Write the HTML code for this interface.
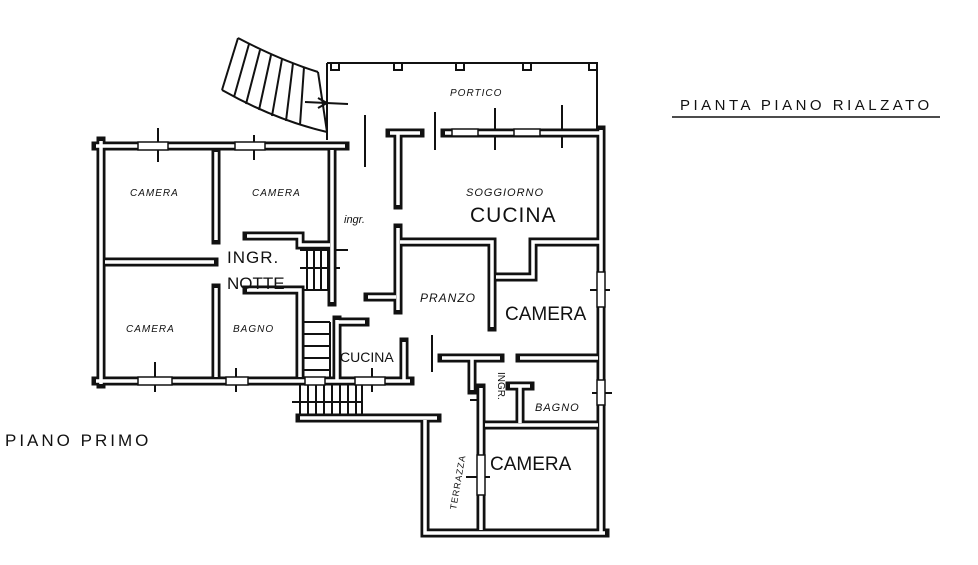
<!DOCTYPE html>
<html><head><meta charset="utf-8"><style>
html,body{margin:0;padding:0;background:#fff;}
svg{display:block;}
text{font-family:"Liberation Sans",sans-serif;fill:#111;}
</style></head><body>
<svg width="978" height="565" viewBox="0 0 978 565" xmlns="http://www.w3.org/2000/svg">
<rect width="978" height="565" fill="#fff"/>
<g stroke="#111" stroke-width="2" fill="none">
<path d="M327,63 L597,63 L597,130"/>
<path d="M327,63 L327,140"/>
<path d="M238,38 Q280,60 318,72"/>
<path d="M222,90 Q275,120 327,132"/>
<path d="M238,38 L222,90"/>
<path d="M318,72 L327,132"/>
<path d="M249,44 L234,97 M260,50 L246,104 M271,55 L259,110 M282,59 L272,116 M293,63 L286,121 M304,67 L300,125"/>
<path d="M305,102 L348,104"/><path d="M318,98 L327,103 L318,108"/>
<rect x="331" y="63" width="8" height="7" fill="#fff"/>
<rect x="394" y="63" width="8" height="7" fill="#fff"/>
<rect x="456" y="63" width="8" height="7" fill="#fff"/>
<rect x="523" y="63" width="8" height="7" fill="#fff"/>
<rect x="589" y="63" width="8" height="7" fill="#fff"/>
<path d="M158,128 L158,162 M254,135 L254,160 M365,115 L365,167 M435,112 L435,150 M495,108 L495,150 M562,105 L562,148"/>
<path d="M155,362 L155,392 M236,368 L236,392 M372,368 L372,392 M432,335 L432,372"/>
<path d="M590,290 L610,290 M470,400 L483,400 M466,477 L490,477 M592,393 L612,393"/>
<path d="M300,250 L348,250 M300,290 L332,290 M307,250 L307,290 M314,250 L314,290 M321,250 L321,290 M328,250 L328,290"/>
<path d="M300,268 L340,268"/>
<path d="M302,322 L330,322 M302,334 L330,334 M302,346 L330,346 M302,358 L330,358 M302,370 L330,370 M302,322 L302,377 M330,322 L330,377"/>
<path d="M300,385 L300,418 M308,385 L308,418 M316,385 L316,418 M324,385 L324,418 M332,385 L332,418 M340,385 L340,418 M348,385 L348,418 M356,385 L356,418 M362,385 L362,418"/>
<path d="M292,402 L362,402"/>
</g>
<g fill="none" stroke-linecap="square">
<g stroke="#111" stroke-width="9">
<path d="M96,146 L345,146"/>
<path d="M101,141 L101,384"/>
<path d="M96,381 L410,381"/>
<path d="M216,152 L216,240 M216,288 L216,377"/>
<path d="M105,262 L214,262"/>
<path d="M332,150 L332,302"/>
<path d="M247,236 L300,236 L300,245 L330,245"/>
<path d="M247,290 L300,290 L300,377"/>
<path d="M337,320 L337,381 M337,322 L365,322"/>
<path d="M404,342 L404,381"/>
<path d="M390,133 L420,133 M445,133 L600,133"/>
<path d="M398,133 L398,205 M398,228 L398,310"/>
<path d="M368,297 L396,297"/>
<path d="M400,242 L492,242 L492,327"/>
<path d="M496,277 L533,277 L533,242 L600,242"/>
<path d="M601,130 L601,533"/>
<path d="M442,358 L500,358 M472,358 L472,390"/>
<path d="M520,358 L598,358"/>
<path d="M425,420 L425,533 L605,533"/>
<path d="M300,418 L437,418"/>
<path d="M481,388 L481,530"/>
<path d="M485,425 L598,425"/>
<path d="M510,386 L530,386 M520,386 L520,423"/>
</g>
</g>
<g fill="none" stroke="#fff" stroke-width="3.5" stroke-linecap="butt">
<path d="M96,146 L345,146"/>
<path d="M101,141 L101,384"/>
<path d="M96,381 L410,381"/>
<path d="M216,152 L216,240 M216,288 L216,377"/>
<path d="M105,262 L214,262"/>
<path d="M332,150 L332,302"/>
<path d="M247,236 L300,236 L300,245 L330,245"/>
<path d="M247,290 L300,290 L300,377"/>
<path d="M337,320 L337,381 M337,322 L365,322"/>
<path d="M404,342 L404,381"/>
<path d="M390,133 L420,133 M445,133 L600,133"/>
<path d="M398,133 L398,205 M398,228 L398,310"/>
<path d="M368,297 L396,297"/>
<path d="M400,242 L492,242 L492,327"/>
<path d="M496,277 L533,277 L533,242 L600,242"/>
<path d="M601,130 L601,533"/>
<path d="M442,358 L500,358 M472,358 L472,390"/>
<path d="M520,358 L598,358"/>
<path d="M425,420 L425,533 L605,533"/>
<path d="M300,418 L437,418"/>
<path d="M481,388 L481,530"/>
<path d="M485,425 L598,425"/>
<path d="M510,386 L530,386 M520,386 L520,423"/>
</g>
<g fill="#fff" stroke="#111" stroke-width="1.5">
<rect x="138" y="142" width="30" height="8"/><rect x="235" y="142" width="30" height="8"/>
<rect x="138" y="377" width="34" height="8"/><rect x="226" y="377" width="22" height="8"/>
<rect x="305" y="377" width="20" height="8"/><rect x="355" y="377" width="30" height="8"/>
<rect x="452" y="129" width="26" height="7"/><rect x="514" y="129" width="26" height="7"/>
<rect x="597" y="272" width="8" height="35"/><rect x="597" y="380" width="8" height="25"/>
<rect x="477" y="455" width="8" height="40"/>
</g>
<g font-style="italic">
<text x="450" y="96" font-size="10" letter-spacing="1">PORTICO</text>
<text x="130" y="196" font-size="10" letter-spacing="1">CAMERA</text>
<text x="252" y="196" font-size="10" letter-spacing="1">CAMERA</text>
<text x="126" y="332" font-size="10" letter-spacing="1">CAMERA</text>
<text x="233" y="332" font-size="10" letter-spacing="1">BAGNO</text>
<text x="344" y="223" font-size="11">ingr.</text>
<text x="466" y="196" font-size="11" letter-spacing="1">SOGGIORNO</text>
<text x="420" y="302" font-size="12" letter-spacing="1">PRANZO</text>
<text x="535" y="411" font-size="11" letter-spacing="1">BAGNO</text>
</g>
<text x="227" y="263" font-size="17" letter-spacing="1">INGR.</text>
<text x="227" y="289" font-size="17">NOTTE</text>
<text x="470" y="222" font-size="21" letter-spacing="1">CUCINA</text>
<text x="505" y="320" font-size="19">CAMERA</text>
<text x="340" y="362" font-size="14">CUCINA</text>
<text x="490" y="470" font-size="19">CAMERA</text>
<text x="0" y="0" font-size="9" letter-spacing="1" transform="translate(456,510) rotate(-80)">TERRAZZA</text>
<text x="0" y="0" font-size="10" transform="translate(498,372) rotate(90)">INGR.</text>
<text x="680" y="110" font-size="15" letter-spacing="3.5">PIANTA PIANO RIALZATO</text>
<path d="M672,117 L940,117" stroke="#111" stroke-width="1.5"/>
<text x="5" y="446" font-size="17" letter-spacing="3">PIANO PRIMO</text>
</svg>
</body></html>
